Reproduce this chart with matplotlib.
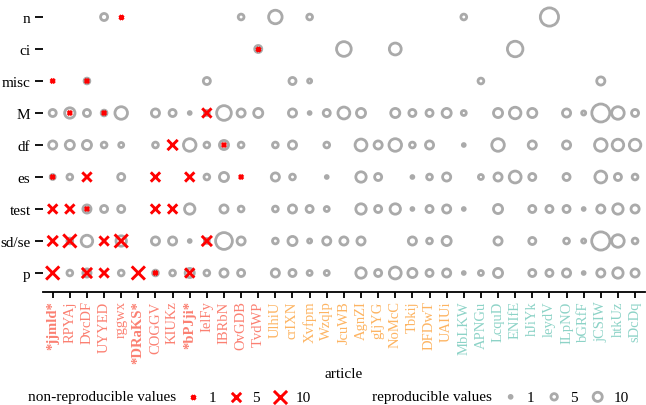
import numpy as np
import matplotlib
matplotlib.use("Agg")
import matplotlib.pyplot as plt

plt.rcParams['font.family'] = ['Liberation Serif', 'DejaVu Serif']

articles = ['*jjmld*', 'RPYAj', 'DvcDF', 'UYYED', 'rggwx', '*DRaKS*', 'COGGV', 'KIUKz',
            '*bPJji*', 'IelFy', 'IBRbN', 'OvGDB', 'TvdWP',
            'UlhiU', 'crIXN', 'Xvfpm', 'Wzqlp', 'JcuWB', 'AgnZI', 'gIjYG', 'NoMcC',
            'Tbkij', 'DFDwT', 'UAIUi',
            'MbLKW', 'APNGu', 'LcquD', 'ENIfE', 'hJiYk', 'leydV', 'ILpNO', 'bGRfF',
            'jCSIW', 'htkUz', 'sDcDq']
group_sizes = [13, 11, 11]
group_colors = ['#fb8072', '#fdb462', '#8dd3c7']

rows = ['p', 'sd/se', 'test', 'es', 'df', 'M', 'misc', 'ci', 'n']

# reproducible values per row (one entry per article)
rep_p    = [0,4,8,0,4, 0,4,4,10,4, 8,6,0,8,6, 3,3,0,13,6, 17,10,6,8,1, 3,10,0,6,6, 8,1,8,13,8]
rep_sdse = [0,4,16,0,13, 0,8,8,1,3, 34,8,0,4,10, 2,8,8,8,0, 0,8,4,10,0, 0,8,0,6,0, 4,2,40,19,4]
rep_test = [0,0,8,6,6, 0,0,0,13,0, 8,4,0,4,8, 6,3,0,13,6, 13,1,6,8,1, 0,10,0,6,6, 6,1,8,13,8]
rep_es   = [3,4,0,0,6, 0,0,0,0,4, 10,0,0,8,4, 0,1,0,13,6, 0,1,4,8,0, 3,8,17,6,0, 6,0,17,6,4]
rep_df   = [8,10,10,4,3, 0,4,0,19,4, 10,4,0,4,8, 0,4,0,17,8, 19,4,8,0,1, 0,19,0,8,0, 8,0,19,16,16]
rep_M    = [6,13,6,4,19, 0,8,6,1,3, 26,8,10,0,8, 1,6,17,10,0, 10,6,6,10,3, 0,10,16,10,0, 8,2,39,19,6]
rep_misc = [0,0,4,0,0, 0,0,0,0,6, 0,0,0,0,6, 2,0,0,0,0, 0,0,0,0,0, 4,0,0,0,0, 0,0,8,0,0]
rep_ci   = [0,0,0,0,0, 0,0,0,0,0, 0,0,6,0,0, 0,0,26,0,0, 17,0,0,0,0, 0,0,29,0,0, 0,0,0,0,0]
rep_n    = [0,0,0,6,0, 0,0,0,0,0, 0,4,0,22,0, 4,0,0,0,0, 0,0,0,0,4, 0,0,0,0,40, 0,0,0,0,0]

# non-reproducible values per row
nrep_p    = [10,0,6,5,0, 10,1,0,5,0] + [0] * 25
nrep_sdse = [6,10,0,5,10, 0,0,0,0,6] + [0] * 25
nrep_test = [5,5,1,0,0, 0,5,5,0,0] + [0] * 25
nrep_es   = [1,0,5,0,0, 0,5,0,5,0, 0,1,0] + [0] * 22
nrep_df   = [0,0,0,0,0, 0,0,6,0,0, 1] + [0] * 24
nrep_M    = [0,1,0,1,0, 0,0,0,0,5] + [0] * 25
nrep_misc = [1,0,1] + [0] * 32
nrep_ci   = [0] * 12 + [1] + [0] * 22
nrep_n    = [0,0,0,0,1] + [0] * 30

rep = np.array([rep_p, rep_sdse, rep_test, rep_es, rep_df, rep_M, rep_misc, rep_ci, rep_n])
nrep = np.array([nrep_p, nrep_sdse, nrep_test, nrep_es, nrep_df, nrep_M, nrep_misc, nrep_ci, nrep_n])

grey = '#aaaaaa'
red = '#ff0000'
s_circ = 4.3
s_x = 9.0
lw_circ = 2.0
lw_x = 2.1

fig = plt.figure(figsize=(6.46, 4.06), dpi=100)
ax = fig.add_axes([43 / 646, 1 - 293 / 406, 602 / 646, 293 / 406])

for r in range(len(rows)):
    cols = np.nonzero(rep[r])[0]
    ax.scatter(cols, np.full(len(cols), r), s=rep[r][cols] * s_circ,
               facecolors='none', edgecolors=grey, linewidths=lw_circ, zorder=2)
for r in range(len(rows)):
    cols = np.nonzero(nrep[r])[0]
    ax.scatter(cols, np.full(len(cols), r), s=nrep[r][cols] * s_x,
               marker='x', c=red, linewidths=lw_x, zorder=3)

ax.set_xlim(-0.566, 34.58)
ax.set_ylim(-0.594, 8.5625)
ax.set_yticks(range(len(rows)))
ax.set_yticklabels(rows, fontsize=11)
ax.set_xticks(range(len(articles)))
ax.set_xticklabels(articles, rotation=90, fontsize=10.5)

colors = []
for n, c in zip(group_sizes, group_colors):
    colors += [c] * n
for lab, c in zip(ax.get_xticklabels(), colors):
    lab.set_color(c)
    if lab.get_text().startswith('*'):
        lab.set_fontweight('bold')

for side in ['left', 'top', 'right']:
    ax.spines[side].set_visible(False)
ax.spines['bottom'].set_linewidth(1.3)
ax.tick_params(axis='y', length=6, width=1.3, pad=3)
ax.tick_params(axis='x', length=4, width=1.3, pad=2)
ax.set_xlabel('article', fontsize=11, labelpad=3)

# legends
h_nrep = [ax.scatter([], [], s=v * s_x, marker='x', c=red, linewidths=lw_x) for v in [1, 5, 10]]
h_rep = [ax.scatter([], [], s=v * s_circ, facecolors='none', edgecolors=grey, linewidths=lw_circ)
         for v in [1, 5, 10]]

fig.text(28 / 646, 8 / 406, 'non-reproducible values', fontsize=11, va='center', ha='left')
fig.legend(h_nrep, ['1', '5', '10'], ncol=3, loc='center left',
           bbox_to_anchor=(185 / 646, 8 / 406), frameon=False, fontsize=11,
           handlelength=1.0, handletextpad=0.55, columnspacing=0.8,
           borderpad=0, borderaxespad=0, scatterpoints=1)
fig.text(372 / 646, 8 / 406, 'reproducible values', fontsize=11, va='center', ha='left')
fig.legend(h_rep, ['1', '5', '10'], ncol=3, loc='center left',
           bbox_to_anchor=(503 / 646, 8 / 406), frameon=False, fontsize=11,
           handlelength=1.0, handletextpad=0.55, columnspacing=0.8,
           borderpad=0, borderaxespad=0, scatterpoints=1)

fig.savefig('out.png', dpi=100)
